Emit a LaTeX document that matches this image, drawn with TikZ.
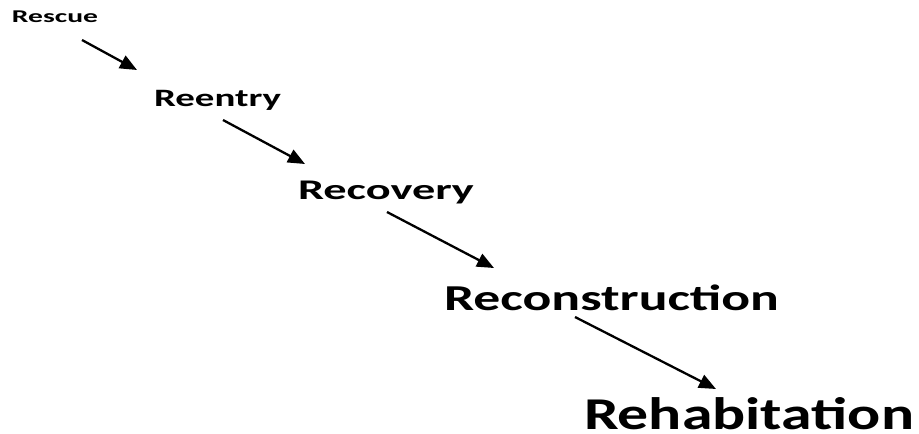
\documentclass[tikz,border=0pt]{standalone}
\usepackage{fontspec}
\usepackage{graphicx}
\setmainfont{Carlito}
\usetikzlibrary{arrows.meta}

% word set in bold at size #1, widened to width #2
\newcommand\stage[3]{\resizebox{#2pt}{\height}{\fontsize{#1}{#1}\selectfont\bfseries #3}}

\tikzset{
  stagelabel/.style={anchor=base west, inner sep=0pt, outer sep=0pt},
  flow/.style={line width=2.3pt, -{Triangle[length=17pt,width=14pt]}}
}

\begin{document}
\begin{tikzpicture}[x=1pt,y=-1pt]
  \useasboundingbox (0,0) rectangle (919,434);

  \node[stagelabel] (rescue)   at (12,22.5)  {\stage{18}{86}{Rescue}};
  \node[stagelabel] (reentry)  at (154,106)  {\stage{25}{127}{Reentry}};
  \node[stagelabel] (recovery) at (298,199.5) {\stage{28.5}{176}{Recovery}};
  \node[stagelabel] (recon)    at (444,310.5)  {\stage{36.5}{335}{Reconstruction}};
  \node[stagelabel] (rehab)    at (584,429.5)  {\stage{45.5}{330}{Rehabitation}};

  \coordinate (a1s) at (82,40);   \coordinate (a1e) at (137,70);
  \coordinate (a2s) at (223,120); \coordinate (a2e) at (305,164);
  \coordinate (a3s) at (387,212); \coordinate (a3e) at (494,268);
  \coordinate (a4s) at (575,317); \coordinate (a4e) at (716,389);

  \draw[flow] (a1s) -- (a1e);
  \draw[flow] (a2s) -- (a2e);
  \draw[flow] (a3s) -- (a3e);
  \draw[flow] (a4s) -- (a4e);
\end{tikzpicture}
\end{document}
